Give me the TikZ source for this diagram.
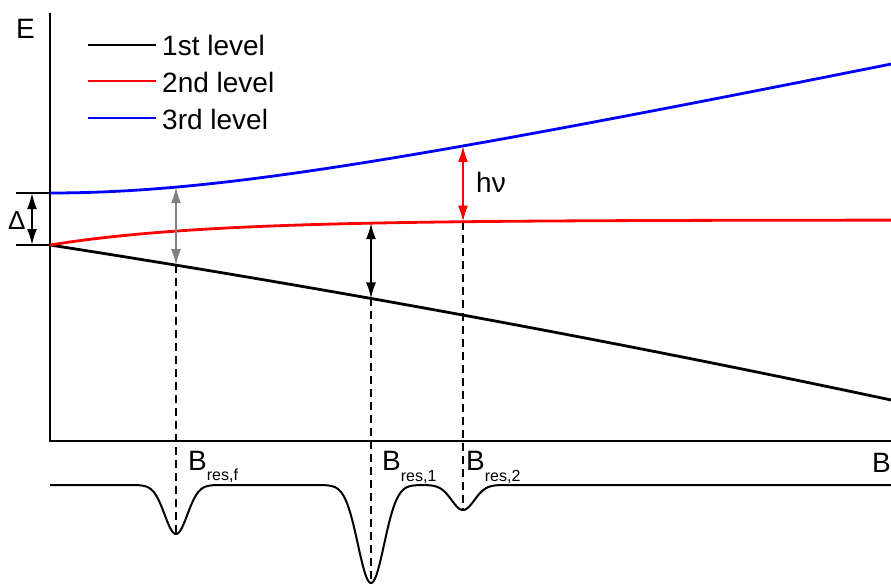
\documentclass[tikz,border=0pt]{standalone}
\usepackage{fontspec}
\setmainfont{Liberation Sans}
\usetikzlibrary{arrows.meta}
\definecolor{lvlred}{RGB}{255,0,0}
\definecolor{lvlblue}{RGB}{0,0,255}
\definecolor{lvlgray}{RGB}{128,128,128}
\begin{document}
\begin{tikzpicture}[x=1pt,y=-1pt,
  declare function={
    blk(\x)=245+15.56*((\x-50)/100)+0.341*((\x-50)/100)^2;
    rd(\x)=220+25*exp(-(\x-50)/155);
    bl(\x)=193-10*(sqrt(5.64^2+(0.021*(\x-50))^2)-5.64);
    spec(\x)=485+49*exp(-min(((\x-176)/16)^2,30))+98*exp(-min(((\x-371)/18.5)^2,30))+25*exp(-min(((\x-463)/16)^2,30));
  },
  curve/.style={line width=2.8pt},
  axisline/.style={line width=2pt},
  guide/.style={line width=1.8pt, dash pattern=on 8pt off 5pt},
  dbl/.style={line width=1.9pt, {Latex[length=16pt,width=10pt]}-{Latex[length=16pt,width=10pt]}},
  lbl/.style={inner sep=0pt, anchor=base west, font=\fontsize{28}{30}\selectfont},
  leg/.style={inner sep=0pt, anchor=base west, font=\fontsize{28}{30}\selectfont},
]
\useasboundingbox (0,0) rectangle (891,586);

% axes
\coordinate (ytop) at (50,13);
\coordinate (orig) at (50,441);
\coordinate (xend) at (891,441);
\draw[axisline] (ytop) -- (orig) -- (xend);
\node[lbl] (E) at (16,39) {E};
\node[lbl] (B) at (872,472) {B};

% legend
\draw[curve] (88,45) -- (156,45);
\draw[curve, lvlred] (88,81) -- (156,81);
\draw[curve, lvlblue] (88,118) -- (156,118);
\node[leg] (l1) at (162,56) {1st level};
\node[leg] (l2) at (162,92.5) {2nd level};
\node[leg] (l3) at (162,129) {3rd level};

% coordinates on the levels
\coordinate (gB) at (176,{blk(176)});
\coordinate (gT) at (176,{bl(176)});
\coordinate (kB) at (371,{blk(371)});
\coordinate (kT) at (371,{rd(371)});
\coordinate (rB) at (463,{rd(463)});
\coordinate (rT) at (463,{bl(463)});
\coordinate (sf) at (176,{spec(176)});
\coordinate (s1) at (371,{spec(371)});
\coordinate (s2) at (463,{spec(463)});

% dashed guides
\draw[guide] (gB) -- (sf);
\draw[guide] (kB) -- (s1);
\draw[guide] (rB) -- (s2);

% energy levels
\draw[curve] plot[domain=50:891, samples=120] (\x,{blk(\x)});
\draw[curve, lvlred] plot[domain=50:891, samples=160] (\x,{rd(\x)});
\draw[curve, lvlblue] plot[domain=50:891, samples=160] (\x,{bl(\x)});

% transitions
\draw[dbl, lvlgray] (gB) -- (gT);
\draw[dbl] (kB) -- (kT);
\draw[dbl, lvlred] (rB) -- (rT);
\node[lbl] (hnu) at (476,192) {hν};

% Delta
\coordinate (dTa) at (16,193);
\coordinate (dTb) at (50,193);
\coordinate (dBa) at (16,245);
\coordinate (dBb) at (50,245);
\draw[axisline] (dTa) -- (dTb);
\draw[axisline] (dBa) -- (dBb);
\coordinate (dU) at (32,193);
\coordinate (dD) at (32,245);
\draw[dbl] (dU) -- (dD);
\node[inner sep=0pt, anchor=base west, font=\fontsize{26}{28}\selectfont] (Delta) at (8,229) {Δ};

% spectrum
\draw[line width=2pt] plot[domain=50:891, samples=700] (\x,{spec(\x)});

% resonance labels
\node[lbl] (bf) at (188,470) {B\raisebox{-10pt}{\fontsize{16}{17}\selectfont res,f}};
\node[lbl] (b1) at (382,470) {B\raisebox{-11pt}{\fontsize{16}{17}\selectfont res,1}};
\node[lbl] (b2) at (466,470) {B\raisebox{-11pt}{\fontsize{16}{17}\selectfont res,2}};
\end{tikzpicture}
\end{document}
